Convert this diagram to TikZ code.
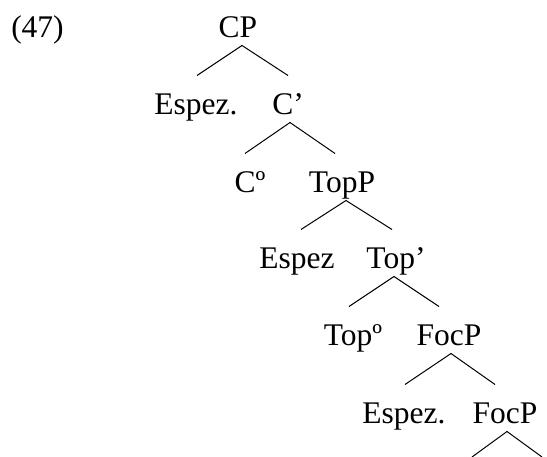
\documentclass[tikz,border=0pt]{standalone}
\usepackage{fontspec}
\setmainfont{Liberation Serif}
\begin{document}
\begin{tikzpicture}[x=1pt,y=-1pt,line width=1pt,
   every node/.style={font=\fontsize{31.5}{38}\selectfont,anchor=base,
     inner sep=0pt,text height=39pt,text depth=7pt}]
   \useasboundingbox (0,0) rectangle (547,457);
   \node (ex) at (37.5,38) {(47)};
   % the tree
   \node (cp) at (238,38) {CP};
   \node (espA) at (196,115) {Espez.};
   \node (cbar) at (288,115) {C’};
   \node (czero) at (250,193) {Cº};
   \node (topp) at (342,193) {TopP};
   \node (espB) at (297,269) {Espez};
   \node (topbar) at (396,269) {Top’};
   \node (topzero) at (353,346) {Topº};
   \node (focA) at (449,346) {FocP};
   \node (espC) at (404,424) {Espez.};
   \node (focB) at (505,424) {FocP};
   \coordinate (focL) at (472,457);
   \coordinate (focR) at (542,457);
   \draw ([xshift=1pt]espA.north) -- ([xshift=4pt]cp.south) -- ([xshift=0pt]cbar.north);
   \draw ([xshift=-5pt]czero.north) -- ([xshift=2pt]cbar.south) -- ([xshift=-7pt]topp.north);
   \draw ([xshift=4pt]espB.north) -- ([xshift=4pt]topp.south) -- ([xshift=-4pt]topbar.north);
   \draw ([xshift=-4pt]topzero.north) -- ([xshift=-2pt]topbar.south) -- ([xshift=-10pt]focA.north);
   \draw ([xshift=1pt]espC.north) -- ([xshift=2pt]focA.south) -- ([xshift=-10pt]focB.north);
   \draw (focL) -- ([xshift=2pt]focB.south) -- (focR);
\end{tikzpicture}
\end{document}
